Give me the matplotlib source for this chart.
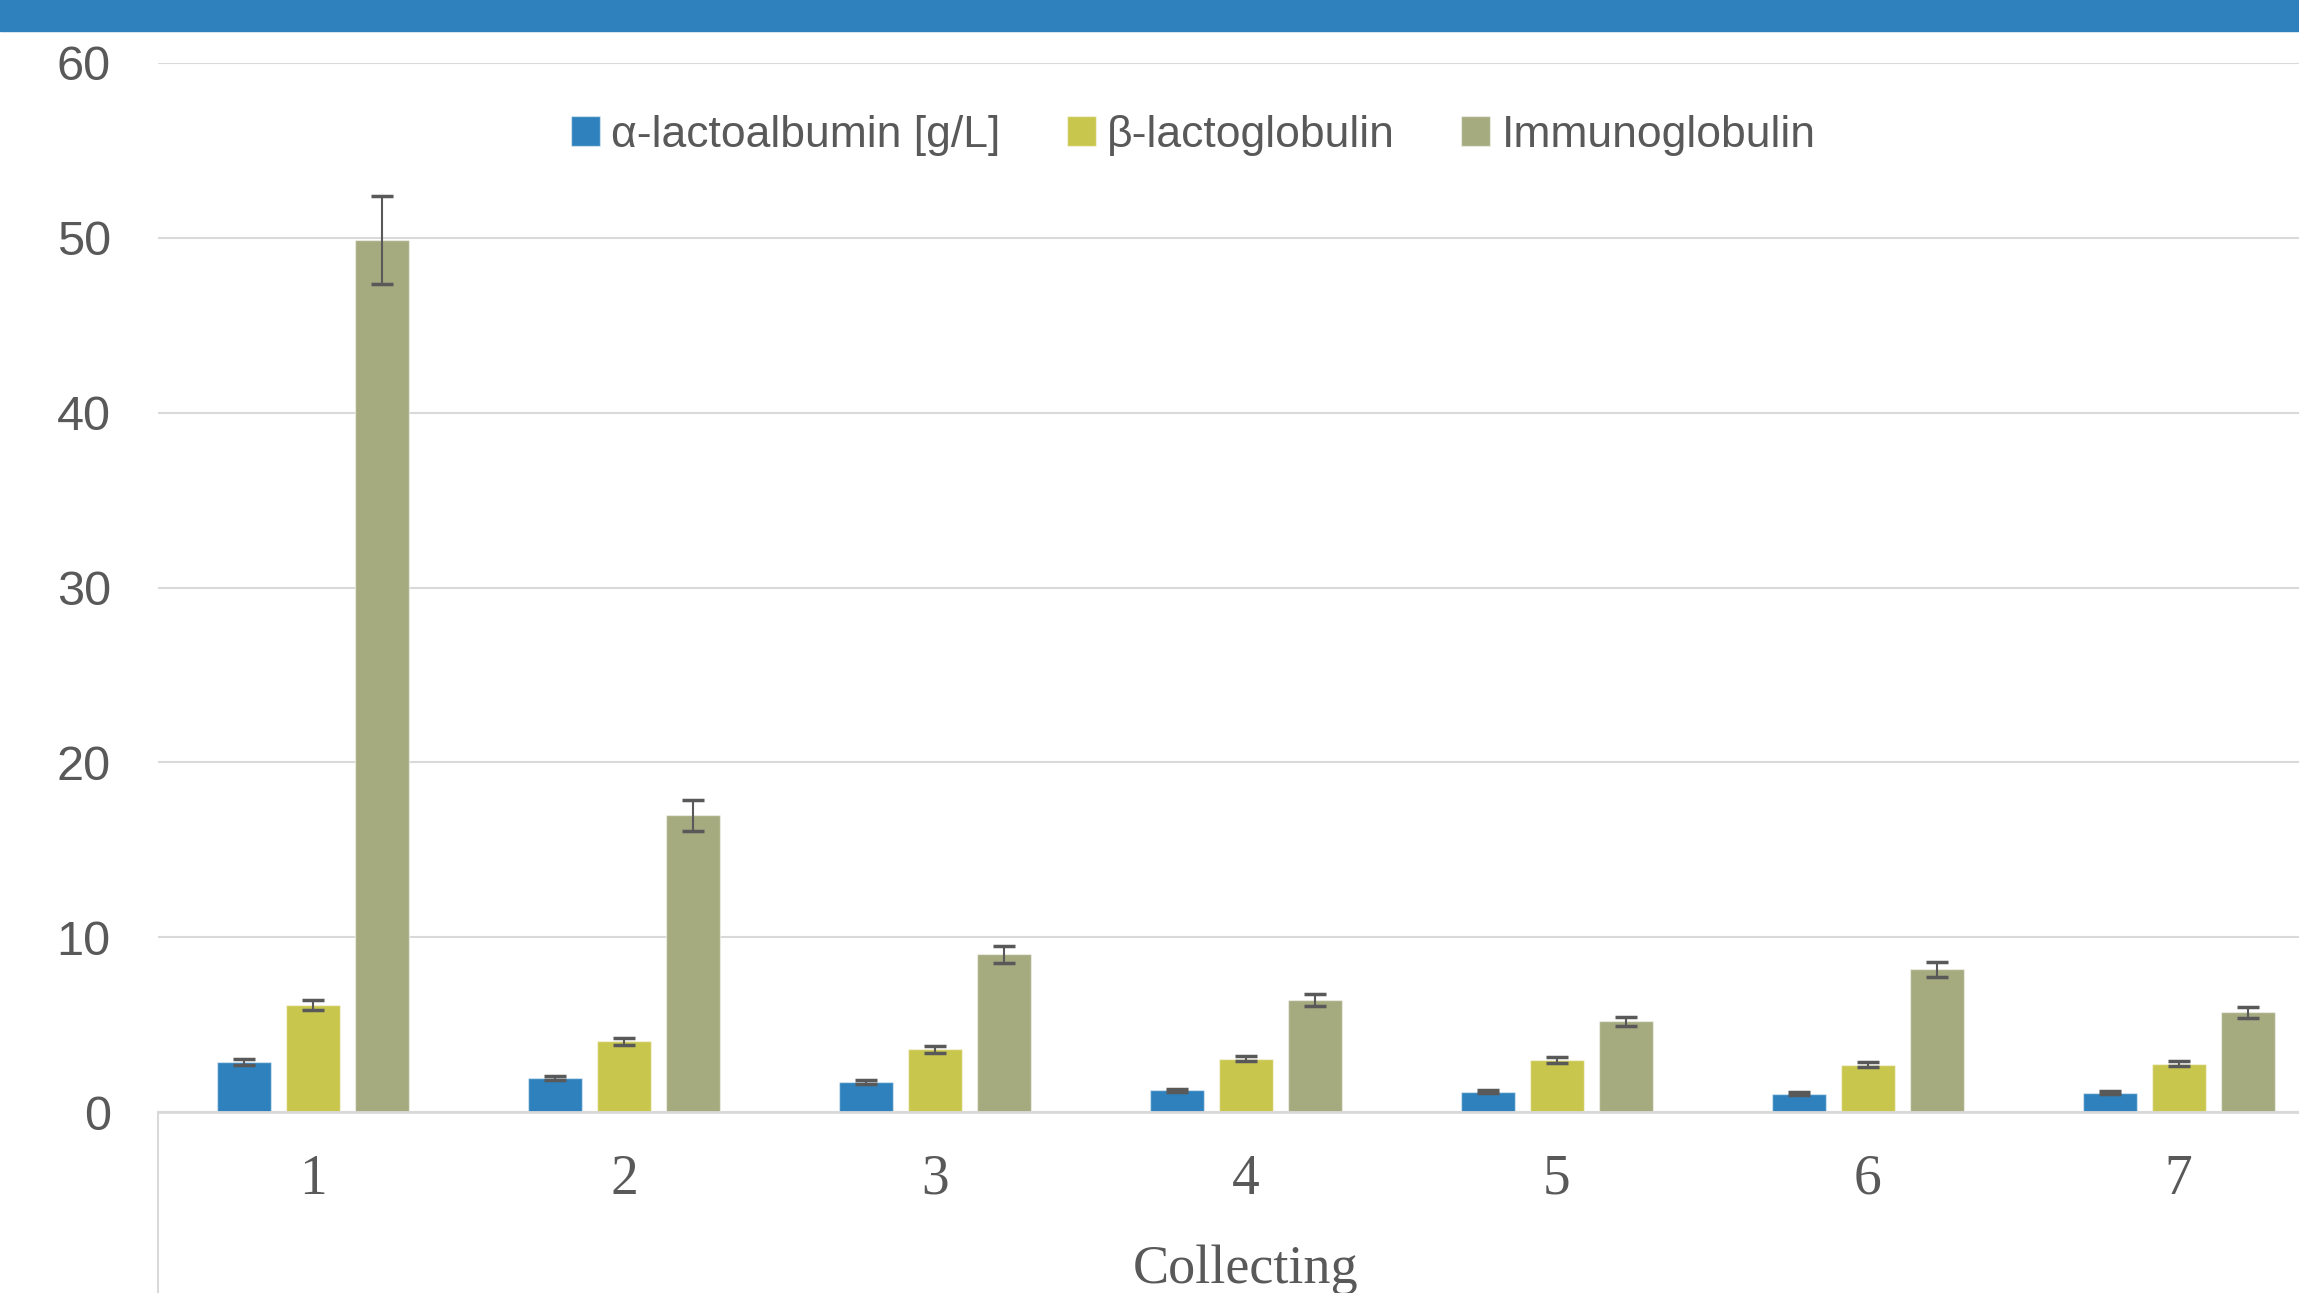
import numpy as np
import matplotlib
matplotlib.use('Agg')
from matplotlib import pyplot as plt
from matplotlib.patches import Rectangle

# Data
collections = ['1', '2', '3', '4', '5', '6', '7']
alpha_lac = [2.86, 1.96, 1.72, 1.24, 1.17, 1.05, 1.11]
alpha_err = [0.15, 0.12, 0.10, 0.07, 0.07, 0.07, 0.07]
beta_lac = [6.13, 4.04, 3.58, 3.06, 2.98, 2.71, 2.77]
beta_err = [0.30, 0.21, 0.20, 0.17, 0.17, 0.15, 0.15]
immuno = [49.87, 16.97, 9.02, 6.42, 5.18, 8.16, 5.70]
immuno_err = [2.50, 0.87, 0.47, 0.33, 0.28, 0.43, 0.31]

series_names = ['α-lactoalbumin [g/L]', 'β-lactoglobulin', 'Immunoglobulin']
colors = ['#2E81BC', '#C9C64E', '#A5AA7F']
text_color = '#595959'
grid_color = '#D9D9D9'
sans = ['Liberation Sans', 'DejaVu Sans']
serif = ['Liberation Serif', 'DejaVu Serif']

W, H = 2299, 1293
fig = plt.figure(figsize=(W / 100, H / 100), dpi=100)

# axes: left at 158px, extends past the right edge (chart is cropped)
left, right, top, bottom = 158, 2334, 63, 1112
ax = fig.add_axes([left / W, (H - bottom) / H, (right - left) / W, (bottom - top) / H])

x = np.arange(1, len(collections) + 1)
width = 0.174
step = 0.222
data = [(alpha_lac, alpha_err), (beta_lac, beta_err), (immuno, immuno_err)]
for i, ((vals, errs), name, c) in enumerate(zip(data, series_names, colors)):
    ax.bar(x + (i - 1) * step, vals, width, color=c, label=name,
           edgecolor=(1, 1, 1, 0.5), linewidth=1, zorder=2)
    ax.errorbar(x + (i - 1) * step, vals, yerr=errs, fmt='none',
                ecolor=text_color, elinewidth=1.5, capsize=8, capthick=2.5, zorder=3)

ax.set_xlim(0.5, 7.5)
ax.set_ylim(0, 60)
ax.set_yticks(range(0, 61, 10))
ax.set_xticks(x)
ax.set_xticklabels(collections)
ax.yaxis.grid(True, color=grid_color, linewidth=1.5, zorder=0)
ax.set_axisbelow(True)
for s in ['top', 'right', 'left']:
    ax.spines[s].set_visible(False)
ax.spines['bottom'].set_color(grid_color)
ax.spines['bottom'].set_linewidth(2)
ax.tick_params(axis='both', length=0, colors=text_color)
ax.tick_params(axis='y', pad=34)
ax.tick_params(axis='x', pad=30)
for lab in ax.get_yticklabels():
    lab.set_family(sans)
    lab.set_fontsize(35)
for lab in ax.get_xticklabels():
    lab.set_family(serif)
    lab.set_fontsize(40)

ax.set_xlabel('Collecting', family=serif, fontsize=39, color=text_color)
ax.xaxis.set_label_coords(0.5, -0.163)
ax.xaxis.label.set_verticalalignment('baseline')

# vertical line under the category axis
ax.plot([0, 0], [0, -0.2], transform=ax.transAxes, color=grid_color,
        linewidth=1.5, clip_on=False)

leg = fig.legend(loc='center', bbox_to_anchor=(0.519, 1 - 135 / H), ncol=3,
                 frameon=False, prop={'family': sans, 'size': 32},
                 handlelength=0.65, handleheight=0.65, handletextpad=0.25,
                 columnspacing=1.5, borderaxespad=0)
for t in leg.get_texts():
    t.set_color(text_color)

# blue banner at the top
fig.add_artist(Rectangle((0, 1 - 31 / H), 1, 31 / H, transform=fig.transFigure,
                         color='#2E81BC', zorder=5))

fig.savefig('out.png', dpi=100)
